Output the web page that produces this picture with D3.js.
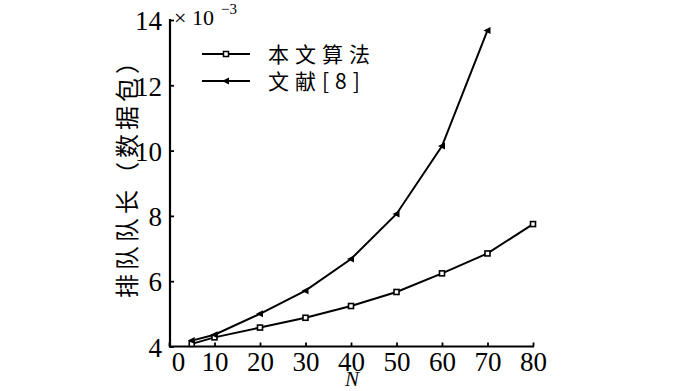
<!DOCTYPE html>
<meta charset="utf-8">
<style>
  body { margin: 0; background: #fff; }
  svg { display: block; }
  .tick text { font-family: "Liberation Serif", serif; font-size: 27px; fill: #000; }
  .cn { font-family: "Noto Sans CJK SC", sans-serif; fill: #000; }
</style>
<body></body>
<script src="https://d3js.org/d3.v7.min.js"></script>
<script>

var xValues = [5, 10, 20, 30, 40, 50, 60, 70, 80];
var oursValues = [4.08, 4.28, 4.58, 4.88, 5.24, 5.67, 6.24, 6.85, 7.75];
var refN = [5, 10, 20, 30, 40, 50, 60, 70];
var refValues = [4.18, 4.36, 5.0, 5.71, 6.68, 8.06, 10.14, 13.68];
var xTicks = [0, 10, 20, 30, 40, 50, 60, 70, 80];
var yTicks = [4, 6, 8, 10, 12, 14];
var seriesNames = ["本文算法", "文献[8]"];

var width = 700, height = 391;

var svg = d3.select("body").append("svg")
    .attr("width", width)
    .attr("height", height);

var x = d3.scaleLinear().domain([0, 80]).range([169, 533]);
var y = d3.scaleLinear().domain([4, 14]).range([346.5, 20]);

// axes, ticks pointing inward
var xAxis = d3.axisBottom(x).tickValues(xTicks).tickSizeInner(-4).tickSizeOuter(0).tickPadding(10);
var yAxis = d3.axisLeft(y).tickValues(yTicks).tickSizeInner(-4).tickSizeOuter(0).tickPadding(8);

var gx = svg.append("g")
    .attr("transform", "translate(0," + y(4) + ")")
    .call(xAxis);
gx.select(".domain").attr("stroke-width", 2.2).attr("d", "M169,0H534");
gx.selectAll(".tick line").attr("stroke-width", 1.8);
gx.selectAll(".tick text").attr("dy", "0.55em")
    .attr("dx", function (d) { return d === 0 ? 9 : 0; });

var gy = svg.append("g")
    .attr("transform", "translate(170,0)")
    .call(yAxis);
gy.select(".domain").attr("stroke-width", 2.2).attr("d", "M0,347.5V19");
gy.selectAll(".tick line").attr("stroke-width", 1.8);
gy.selectAll(".tick text").attr("dy", "0.36em");

// exponent label
svg.append("text")
    .attr("x", 174).attr("y", 25)
    .attr("font-family", "Liberation Serif, serif")
    .attr("font-size", 22)
    .text("× 10");
svg.append("text")
    .attr("x", 221).attr("y", 14)
    .attr("font-family", "Liberation Serif, serif")
    .attr("font-size", 15)
    .text("−3");

// axis titles
svg.append("text")
    .attr("x", 352).attr("y", 386)
    .attr("text-anchor", "middle")
    .attr("font-family", "Liberation Serif, serif")
    .attr("font-style", "italic")
    .attr("font-size", 21)
    .text("N");

svg.append("text")
    .attr("class", "cn")
    .attr("transform", "translate(136,172) rotate(-90)")
    .attr("text-anchor", "middle")
    .attr("font-size", 24)
    .attr("letter-spacing", 4)
    .text("排队队长（数据包）");

var line = d3.line()
    .x(function (d) { return x(d[0]); })
    .y(function (d) { return y(d[1]); });

var ours = xValues.map(function (n, i) { return [n, oursValues[i]]; });
var ref = refN.map(function (n, i) { return [n, refValues[i]]; });

svg.append("path").datum(ours)
    .attr("d", line).attr("fill", "none").attr("stroke", "#000").attr("stroke-width", 2);
svg.append("path").datum(ref)
    .attr("d", line).attr("fill", "none").attr("stroke", "#000").attr("stroke-width", 2);

svg.selectAll(".sq").data(ours).enter().append("rect")
    .attr("x", function (d) { return x(d[0]) - 2.5; })
    .attr("y", function (d) { return y(d[1]) - 2.5; })
    .attr("width", 5).attr("height", 5)
    .attr("fill", "#fff").attr("stroke", "#000").attr("stroke-width", 1.6);

var tri = "M-4,0L3,-3.5L3,3.5Z";
svg.selectAll(".tri").data(ref).enter().append("path")
    .attr("transform", function (d) { return "translate(" + x(d[0]) + "," + y(d[1]) + ")"; })
    .attr("d", tri).attr("fill", "#000");

// legend
var legend = svg.append("g");
[54, 81].forEach(function (ly, i) {
  legend.append("line")
      .attr("x1", 202).attr("x2", 250).attr("y1", ly).attr("y2", ly)
      .attr("stroke", "#000").attr("stroke-width", 2);
  if (i === 0) {
    legend.append("rect").attr("x", 223.5).attr("y", ly - 2.5).attr("width", 5).attr("height", 5)
        .attr("fill", "#fff").attr("stroke", "#000").attr("stroke-width", 1.5);
  } else {
    legend.append("path").attr("transform", "translate(226," + ly + ")").attr("d", tri).attr("fill", "#000");
  }
  legend.append("text")
      .attr("class", "cn")
      .attr("x", 268).attr("y", ly + 8)
      .attr("font-size", 21)
      .attr("letter-spacing", 6)
      .text(seriesNames[i]);
});

</script>
